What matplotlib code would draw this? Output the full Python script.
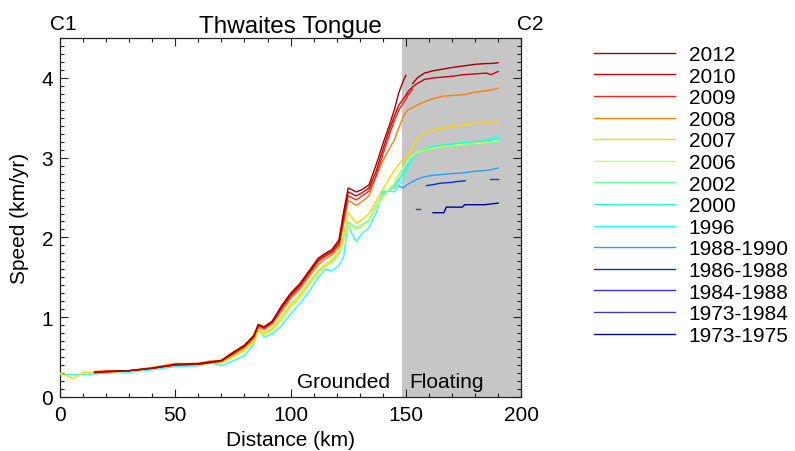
import numpy as np
import matplotlib
matplotlib.use('Agg')
import matplotlib.pyplot as plt
from matplotlib.ticker import MultipleLocator

plt.rcParams['font.family'] = ['Liberation Sans', 'DejaVu Sans']

N = np.nan

# distance grid (km): grounded part and floating part
GX = [0, 6, 10, 15, 20, 30, 40, 50, 60, 65, 70, 75, 80, 84, 86, 88.5, 92, 96, 100, 104,
      108, 112, 115, 118, 121, 123, 125, 126.5, 128.5, 131, 134, 137, 140, 143, 145,
      147, 149, 150]
FX = [151, 153, 155, 158, 162, 166, 170, 175, 180, 185, 187, 190]

g2012 = [N, N, N, 0.31, 0.32, 0.33, 0.36, 0.41, 0.42, 0.44, 0.46, 0.56, 0.65, 0.77, 0.91,
         0.88, 0.95, 1.14, 1.30, 1.42, 1.58, 1.74, 1.80, 1.85, 1.97, 2.32, 2.62, 2.60, 2.57,
         2.60, 2.66, 2.90, 3.17, 3.42, 3.60, 3.82, 3.97, 4.03]
f2012 = [N, 3.93, 4.00, 4.06, 4.09, 4.11, 4.13, 4.15, 4.17, 4.18, 4.18, 4.19]

g2010 = [N, N, N, 0.31, 0.32, 0.33, 0.36, 0.40, 0.41, 0.43, 0.45, 0.55, 0.64, 0.76, 0.90,
         0.87, 0.94, 1.12, 1.28, 1.40, 1.56, 1.72, 1.78, 1.83, 1.94, 2.27, 2.57, 2.55, 2.52,
         2.56, 2.62, 2.82, 3.10, 3.36, 3.52, 3.66, 3.74, 3.78]
f2010 = [3.83, 3.89, 3.93, 3.98, 4.00, 4.01, 4.02, 4.04, 4.05, 4.06, 4.04, 4.08]

g2009 = [N, N, N, 0.30, 0.31, 0.33, 0.36, 0.40, 0.41, 0.43, 0.45, 0.54, 0.63, 0.75, 0.89,
         0.86, 0.93, 1.10, 1.26, 1.38, 1.54, 1.70, 1.76, 1.81, 1.91, 2.22, 2.52, 2.50, 2.47,
         2.52, 2.58, 2.76, 3.04, 3.30, 3.46, 3.60, 3.69, 3.73]
f2009 = [3.79, 3.86, N, N, N, N, N, N, N, N, N, N]

g2008 = [N, N, N, 0.32, 0.33, 0.33, 0.37, 0.42, 0.42, 0.45, 0.45, 0.53, 0.62, 0.73, 0.87,
         0.84, 0.91, 1.07, 1.23, 1.35, 1.51, 1.66, 1.73, 1.78, 1.88, 2.17, 2.46, 2.44, 2.40,
         2.45, 2.52, 2.76, 2.96, 3.12, 3.22, 3.38, 3.52, 3.57]
f2008 = [3.60, 3.63, 3.66, 3.70, 3.74, 3.77, 3.78, 3.79, 3.82, 3.84, 3.85, 3.87]

g2007 = [0.30, 0.23, 0.31, 0.31, 0.32, 0.33, 0.37, 0.41, 0.41, 0.43, 0.44, 0.51, 0.60, 0.70,
         0.84, 0.80, 0.86, 1.00, 1.16, 1.28, 1.44, 1.58, 1.66, 1.72, 1.82, 2.02, 2.31, 2.25,
         2.18, 2.22, 2.30, 2.45, 2.60, 2.75, 2.84, 2.92, 2.98, 3.01]
f2007 = [3.05, 3.14, 3.24, 3.31, 3.35, 3.37, 3.39, 3.41, 3.43, 3.44, 3.45, 3.46]

g2006 = [N, N, N, 0.30, 0.31, 0.32, 0.36, 0.40, 0.40, 0.43, 0.43, 0.50, 0.58, 0.68, 0.82,
         0.78, 0.83, 0.96, 1.12, 1.24, 1.40, 1.55, 1.63, 1.68, 1.78, 1.95, 2.16, 2.13, 2.10,
         2.14, 2.20, 2.38, 2.50, 2.62, 2.68, 2.80, 2.88, 2.92]
f2006 = [2.97, 3.03, 3.07, 3.10, 3.12, 3.14, 3.15, 3.17, 3.18, 3.19, 3.20, 3.21]

g2002 = [N, N, N, N, N, N, N, N, 0.40, 0.42, 0.42, 0.50, 0.58, 0.68, 0.83,
         0.79, 0.84, 0.97, 1.13, 1.25, 1.41, 1.56, 1.64, 1.69, 1.79, 1.97, 2.20, 2.16, 2.12,
         2.16, 2.22, 2.40, 2.52, 2.60, 2.65, 2.78, 2.86, 2.90]
f2002 = [2.96, 3.02, 3.06, 3.09, 3.11, 3.13, 3.14, 3.16, 3.17, 3.18, 3.19, 3.20]

g2000 = [N, N, N, N, N, N, N, N, N, N, N, N, N, N, N, N, N, N, N, N, N, N, N, N, N, N,
         N, N, N, N, N, N, 2.55, 2.60, 2.63, 2.72, 2.82, 2.87]
f2000 = [2.93, 3.01, 3.07, 3.11, 3.14, 3.16, 3.17, 3.19, 3.20, 3.21, 3.22, 3.24]

g1996 = [0.28, 0.28, 0.28, 0.29, 0.30, 0.31, 0.34, 0.38, 0.39, 0.43, 0.39, 0.45, 0.52, 0.66,
         0.85, 0.75, 0.79, 0.89, 1.04, 1.17, 1.32, 1.50, 1.60, 1.58, 1.65, 1.75, 2.18, 2.05,
         1.95, 2.05, 2.12, 2.30, 2.58, 2.58, 2.57, 2.66, 2.74, 2.80]
f1996 = [2.88, 3.00, 3.06, 3.10, 3.14, 3.16, 3.17, 3.19, 3.20, 3.22, 3.24, 3.27]

g1988_1990 = [N, N, N, N, N, N, N, N, N, N, N, N, N, N, N, N, N, N, N, N, N, N, N, N, N, N,
              N, N, N, N, N, N, N, N, N, 2.64, 2.62, 2.65]
f1988_1990 = [2.67, 2.70, 2.73, 2.76, 2.78, 2.79, 2.80, 2.81, 2.83, 2.84, 2.85, 2.87]

# sparse floating-only series
km_1986_1988 = [159, 161.5, 165, 170, 172, 175.7]
v_1986_1988 = [2.65, 2.66, 2.68, 2.69, 2.70, 2.71]
km_1984_1988 = [186.5, 190]
v_1984_1988 = [2.73, 2.73]
km_1973_1984 = [154.5, 156.3]
v_1973_1984 = [2.36, 2.36]
km_1973_1975 = [161.8, 166.5, 167.5, 174.5, 175.5, 184, 190]
v_1973_1975 = [2.31, 2.31, 2.38, 2.38, 2.41, 2.41, 2.43]

labels = ['2012', '2010', '2009', '2008', '2007', '2006', '2002', '2000', '1996',
          '1988-1990', '1986-1988', '1984-1988', '1973-1984', '1973-1975']
colors = ['#a00000', '#d40000', '#ff2020', '#ff8000', '#ffd700', '#c8ff50', '#70ffa0',
          '#20ffd8', '#30ffff', '#20a0ff', '#0030e0', '#3030e0', '#4040b0', '#0000a0']

GROUNDING_KM = 148.3

X = GX + FX
series = [
    (X, g2012 + f2012), (X, g2010 + f2010), (X, g2009 + f2009), (X, g2008 + f2008),
    (X, g2007 + f2007), (X, g2006 + f2006), (X, g2002 + f2002), (X, g2000 + f2000),
    (X, g1996 + f1996), (X, g1988_1990 + f1988_1990),
    (km_1986_1988, v_1986_1988), (km_1984_1988, v_1984_1988),
    (km_1973_1984, v_1973_1984), (km_1973_1975, v_1973_1975),
]

fig = plt.figure(figsize=(7.95, 4.52), dpi=100)
ax = fig.add_axes([0.0755, 0.1195, 0.5800, 0.7942])

ax.axvspan(GROUNDING_KM, 200, color='#c6c6c6', lw=0, zorder=0)

handles = [None] * len(series)
for i in range(len(series) - 1, -1, -1):
    xs, ys = series[i]
    ln, = ax.plot(xs, ys, color=colors[i], lw=1.0, label=labels[i], zorder=2 + (len(series) - i))
    handles[i] = ln

ax.set_xlim(0, 200)
ax.set_ylim(0, 4.5)
ax.xaxis.set_major_locator(MultipleLocator(50))
ax.xaxis.set_minor_locator(MultipleLocator(10))
ax.yaxis.set_major_locator(MultipleLocator(1))
ax.yaxis.set_minor_locator(MultipleLocator(0.1))
ax.tick_params(which='both', direction='in', top=True, right=True, color='#222222', width=0.8)
ax.tick_params(which='major', length=6)
ax.tick_params(which='minor', length=3)
ax.tick_params(axis='x', which='major', labelsize=15, pad=6)
ax.tick_params(axis='y', which='major', labelsize=15, pad=5)
for s in ax.spines.values():
    s.set_linewidth(0.9)
    s.set_color('#222222')

ax.set_xlabel('Distance (km)', fontsize=15, labelpad=4)
ax.set_ylabel('Speed (km/yr)', fontsize=15, labelpad=9)
ax.set_title('Thwaites Tongue', fontsize=17.5, pad=4)

ax.text(123, 0.19, 'Grounded', fontsize=15, ha='center', va='center')
ax.text(167.5, 0.19, 'Floating', fontsize=15, ha='center', va='center')

fig.text(63 / 795, 1 - 25 / 452, 'C1', fontsize=15, ha='center', va='center')
fig.text(530 / 795, 1 - 25 / 452, 'C2', fontsize=15, ha='center', va='center')

fig.legend(handles, labels, loc='upper left', bbox_to_anchor=(594 / 795, 1 - 46 / 452),
           frameon=False, fontsize=15, handlelength=3.9, handletextpad=0.65,
           labelspacing=0.125, borderaxespad=0, borderpad=0)

fig.savefig('out.png', dpi=100)
